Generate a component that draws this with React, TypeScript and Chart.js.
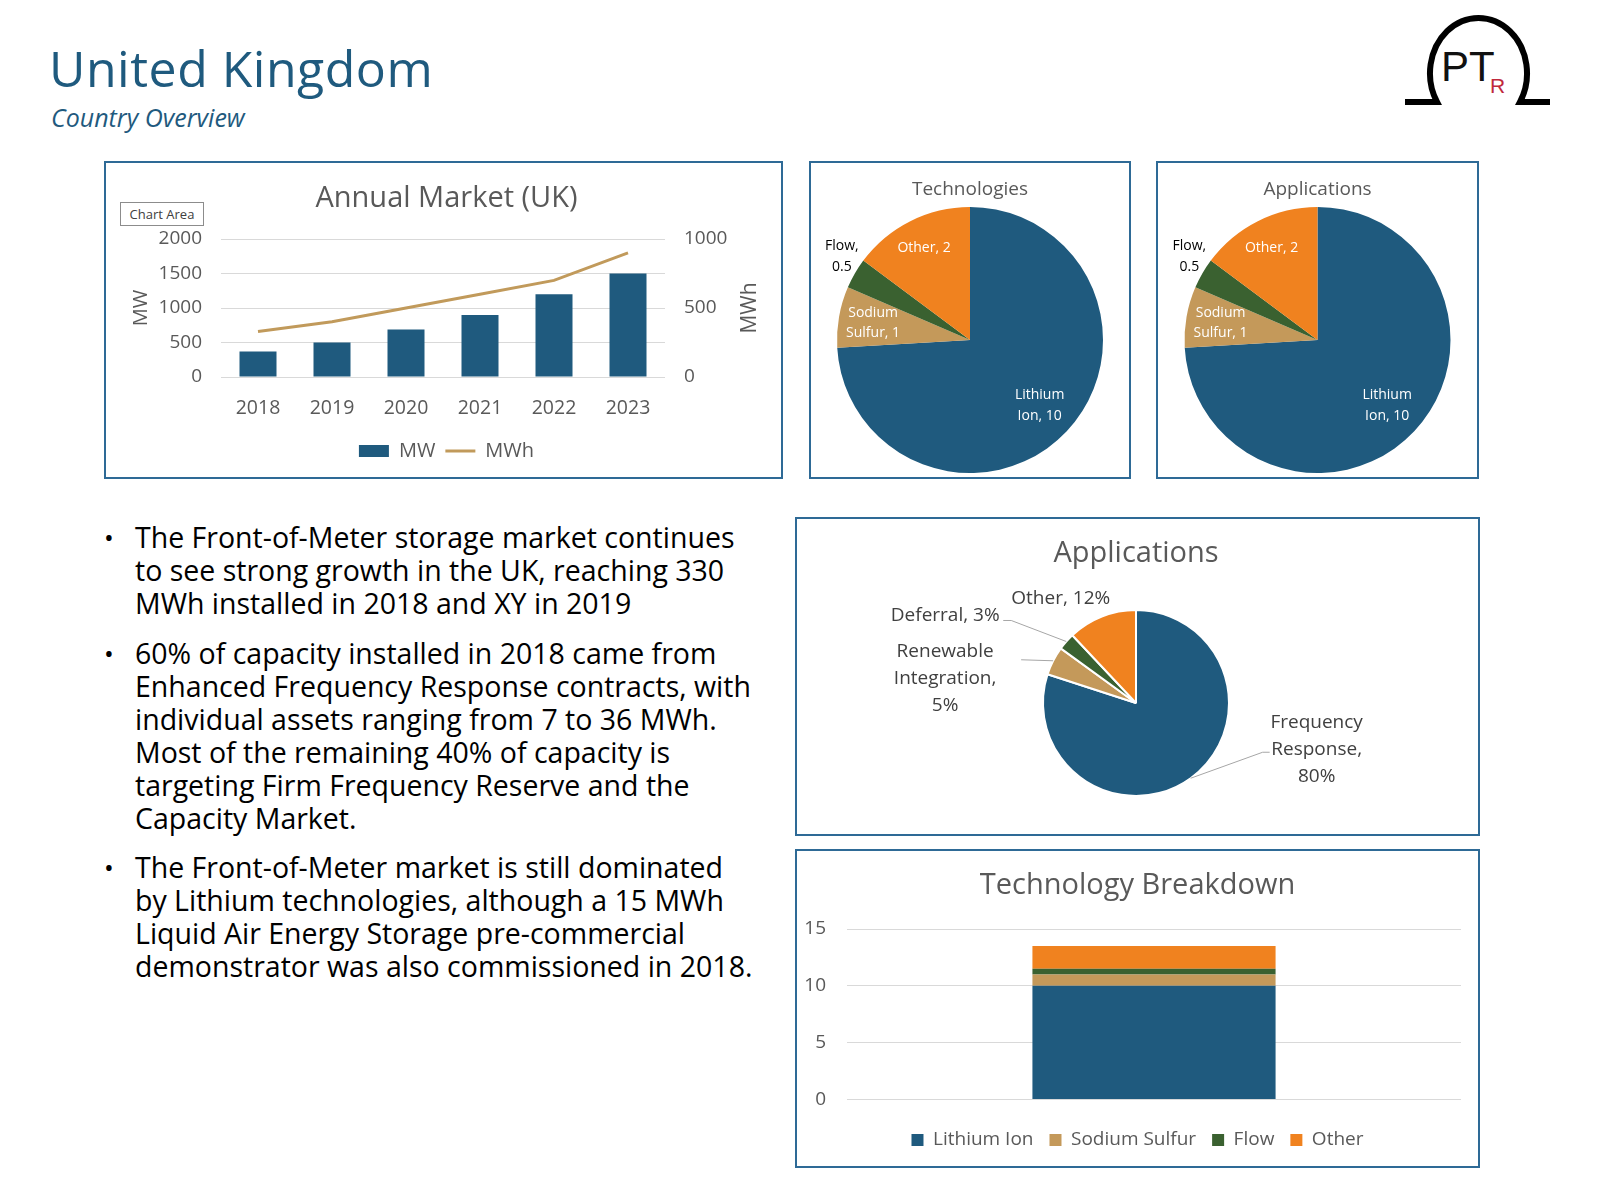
import React, { useEffect, useRef } from "react";
import { Chart, registerables } from "chart.js";

Chart.register(...registerables);

const FONT = "'Open Sans', 'Noto Sans', sans-serif";
const BLUE = "#1F5A7E";
const TAN = "#C4995A";
const GREEN = "#3A6130";
const ORANGE = "#F0821F";
const LINE = "#C19A5B";
const GRID = "#D9D9D9";
const TXT = "#595959";
const BORDER = "#2E6A96";
const TITLE_BLUE = "#1F5A7E";

// ---- Annual Market (UK)
const years = ["2018", "2019", "2020", "2021", "2022", "2023"];
const mwValues = [370, 500, 690, 900, 1200, 1500];
const mwhValues = [330, 400, 500, 600, 700, 900];

// ---- Technologies pie
const techCategories = ["Lithium Ion", "Sodium Sulfur", "Flow", "Other"];
const techValues = [10, 1, 0.5, 2];

// ---- Applications (small) pie
const appSmallCategories = ["Lithium Ion", "Sodium Sulfur", "Flow", "Other"];
const appSmallValues = [10, 1, 0.5, 2];

// ---- Applications pie (shares, %)
const appCategories = ["Frequency Response", "Renewable Integration", "Deferral", "Other"];
const appShares = [80, 5, 3, 12];

// ---- Technology Breakdown stacked bar
const breakdownSeries = ["Lithium Ion", "Sodium Sulfur", "Flow", "Other"];
const breakdownValues = [10, 1, 0.5, 2];

const sliceColors = [BLUE, TAN, GREEN, ORANGE];

type LabelSpec = {
  breaks?: number[];
  color: string;
  radial?: number;
  dx?: number;
  dy?: number;
  leader?: [number, number][];
};

function splitLines(text: string, breaks: number[] = []) {
  const words = text.split(" ");
  const lines: string[] = [];
  let cur: string[] = [];
  words.forEach((w, k) => {
    cur.push(w);
    if (breaks.includes(k + 1)) {
      lines.push(cur.join(" "));
      cur = [];
    }
  });
  if (cur.length) lines.push(cur.join(" "));
  return lines;
}

function pieLabelPlugin(
  id: string,
  specs: LabelSpec[],
  fontSize: number,
  lineH: number,
  fmt: (c: string, v: number) => string
) {
  return {
    id,
    afterDatasetsDraw(chart: any) {
      const ctx = chart.ctx;
      const meta = chart.getDatasetMeta(0);
      const labels = chart.data.labels as string[];
      const data = chart.data.datasets[0].data as number[];
      ctx.save();
      meta.data.forEach((arc: any, i: number) => {
        const spec = specs[i];
        if (!spec) return;
        const p = arc.getProps(["x", "y", "startAngle", "endAngle", "outerRadius"], true);
        const mid = (p.startAngle + p.endAngle) / 2;
        const ax = p.x + Math.cos(mid) * p.outerRadius;
        const ay = p.y + Math.sin(mid) * p.outerRadius;
        let cx: number, cy: number;
        if (spec.radial != null) {
          cx = p.x + Math.cos(mid) * p.outerRadius * spec.radial;
          cy = p.y + Math.sin(mid) * p.outerRadius * spec.radial;
        } else {
          cx = ax + (spec.dx || 0);
          cy = ay + (spec.dy || 0);
        }
        if (spec.leader) {
          ctx.beginPath();
          ctx.moveTo(ax, ay);
          spec.leader.forEach(([lx, ly]) => ctx.lineTo(ax + lx, ay + ly));
          ctx.strokeStyle = "#A6A6A6";
          ctx.lineWidth = 1;
          ctx.stroke();
        }
        const lines = splitLines(fmt(labels[i], data[i]), spec.breaks);
        ctx.fillStyle = spec.color;
        ctx.font = `${fontSize}px ${FONT}`;
        ctx.textAlign = "center";
        ctx.textBaseline = "middle";
        lines.forEach((ln, k) => {
          ctx.fillText(ln, cx, cy + (k - (lines.length - 1) / 2) * lineH);
        });
      });
      ctx.restore();
    },
  };
}

const mwhTitlePlugin = {
  id: "mwhTitle",
  afterDraw(chart: any) {
    const s = chart.scales.y1;
    const ctx = chart.ctx;
    ctx.save();
    ctx.translate(s.right - 31, (chart.chartArea.top + chart.chartArea.bottom) / 2);
    ctx.rotate(-Math.PI / 2);
    ctx.font = `21px ${FONT}`;
    ctx.fillStyle = TXT;
    ctx.textAlign = "center";
    ctx.textBaseline = "middle";
    ctx.fillText("MWh", 0, 0);
    ctx.restore();
  },
};

const plainTick = (v: any) => String(v);

function annualConfig(): any {
  return {
    type: "bar",
    data: {
      labels: years,
      datasets: [
        {
          type: "bar",
          label: "MW",
          data: mwValues,
          backgroundColor: BLUE,
          borderWidth: 0,
          yAxisID: "y",
          barPercentage: 0.5,
          categoryPercentage: 1,
          pointStyle: "rect",
        },
        {
          type: "line",
          label: "MWh",
          data: mwhValues,
          borderColor: LINE,
          backgroundColor: LINE,
          borderWidth: 3,
          pointRadius: 0,
          pointBorderWidth: 3,
          pointBorderColor: LINE,
          pointStyle: "line",
          tension: 0,
          yAxisID: "y1",
        },
      ],
    },
    options: {
      responsive: false,
      animation: false,
      layout: { padding: { left: 6, right: 0, top: 0, bottom: 6 } },
      plugins: {
        title: {
          display: true,
          text: "Annual Market (UK)",
          color: TXT,
          font: { family: FONT, size: 29, weight: "normal" },
          padding: { top: 18.6, bottom: 22.6 },
        },
        legend: {
          position: "bottom",
          labels: {
            usePointStyle: true,
            pointStyleWidth: 30,
            boxHeight: 12,
            padding: 10,
            color: TXT,
            font: { family: FONT, size: 20 },
            sort: (a: any, b: any) => a.datasetIndex - b.datasetIndex,
          },
        },
        tooltip: { enabled: false },
      },
      scales: {
        x: {
          grid: { display: false, drawTicks: false },
          border: { display: false },
          ticks: { color: TXT, font: { family: FONT, size: 19.5 }, padding: 19.5 },
          afterFit: (s: any) => {
            s.height = 54;
          },
        },
        y: {
          position: "left",
          min: 0,
          max: 2000,
          ticks: {
            stepSize: 500,
            color: TXT,
            font: { family: FONT, size: 19 },
            padding: 19,
            callback: plainTick,
          },
          grid: { color: GRID, drawTicks: false },
          border: { display: false },
          title: {
            display: true,
            text: "MW",
            color: TXT,
            font: { family: FONT, size: 20 },
            padding: { top: 17, bottom: 0 },
          },
          afterFit: (s: any) => {
            s.width = 109;
          },
        },
        y1: {
          position: "right",
          min: 0,
          max: 1000,
          ticks: {
            stepSize: 500,
            color: TXT,
            font: { family: FONT, size: 19 },
            padding: 19,
            callback: plainTick,
          },
          grid: { drawOnChartArea: false, drawTicks: false },
          border: { display: false },
          afterFit: (s: any) => {
            s.width = 116;
          },
        },
      },
    },
    plugins: [mwhTitlePlugin],
  };
}

const smallPieSpecs: LabelSpec[] = [
  { breaks: [1], color: "#FFFFFF", radial: 0.72 },
  { breaks: [1], color: "#FFFFFF", radial: 0.74 },
  { breaks: [1], color: "#000000", dx: -13, dy: -17 },
  { color: "#FFFFFF", radial: 0.77 },
];

function smallPieConfig(title: string, cats: string[], vals: number[], id: string): any {
  return {
    type: "pie",
    data: {
      labels: cats,
      datasets: [{ data: vals, backgroundColor: sliceColors, borderWidth: 0 }],
    },
    options: {
      responsive: false,
      animation: false,
      layout: { padding: { top: 0, bottom: 4, left: 0, right: 0 } },
      plugins: {
        title: {
          display: true,
          text: title,
          color: TXT,
          font: { family: FONT, size: 19, weight: "normal" },
          padding: { top: 15.6, bottom: 5.6 },
        },
        legend: { display: false },
        tooltip: { enabled: false },
      },
    },
    plugins: [pieLabelPlugin(id, smallPieSpecs, 14, 20.5, (c, v) => `${c}, ${v}`)],
  };
}

const appSpecs: LabelSpec[] = [
  { breaks: [1, 2], color: "#404040", dx: 126, dy: -29, leader: [[72, -26], [79, -26]] },
  { breaks: [1, 2], color: "#404040", dx: -108, dy: 18, leader: [[-32, -1]] },
  { color: "#404040", dx: -121, dy: -26, leader: [[-55, -21], [-63, -21]] },
  { color: "#404040", dx: -41, dy: -18 },
];

function appPieConfig(): any {
  return {
    type: "pie",
    data: {
      labels: appCategories,
      datasets: [{ data: appShares, backgroundColor: sliceColors, borderColor: "#FFFFFF", borderWidth: 2 }],
    },
    options: {
      responsive: false,
      animation: false,
      layout: { padding: { top: 0, bottom: 37, left: 0, right: 3 } },
      plugins: {
        title: {
          display: true,
          text: "Applications",
          color: TXT,
          font: { family: FONT, size: 29, weight: "normal" },
          padding: { top: 17.6, bottom: 37.6 },
        },
        legend: { display: false },
        tooltip: { enabled: false },
      },
    },
    plugins: [pieLabelPlugin("appLabels", appSpecs, 19, 27, (c, v) => `${c}, ${v}%`)],
  };
}

function breakdownConfig(): any {
  return {
    type: "bar",
    data: {
      labels: ["Technologies"],
      datasets: breakdownSeries.map((name, i) => ({
        label: name,
        data: [breakdownValues[i]],
        backgroundColor: sliceColors[i],
        borderWidth: 0,
        barPercentage: 0.396,
        categoryPercentage: 1,
      })),
    },
    options: {
      responsive: false,
      animation: false,
      layout: { padding: { left: 0, right: 0, top: 0, bottom: 6.5 } },
      plugins: {
        title: {
          display: true,
          text: "Technology Breakdown",
          color: TXT,
          font: { family: FONT, size: 29, weight: "normal" },
          padding: { top: 17.6, bottom: 25.6 },
        },
        legend: {
          position: "bottom",
          labels: {
            boxWidth: 12,
            boxHeight: 12,
            padding: 16,
            color: TXT,
            font: { family: FONT, size: 19 },
          },
        },
        tooltip: { enabled: false },
      },
      scales: {
        x: {
          stacked: true,
          grid: { display: false, drawTicks: false },
          border: { display: false },
          ticks: { display: false },
          afterFit: (s: any) => {
            s.height = 15;
          },
        },
        y: {
          stacked: true,
          min: 0,
          max: 15,
          ticks: { stepSize: 5, color: TXT, font: { family: FONT, size: 19 }, padding: 21 },
          grid: { color: GRID, drawTicks: false },
          border: { display: false },
          afterFit: (s: any) => {
            s.width = 50;
          },
        },
        yRight: {
          position: "right",
          display: true,
          ticks: { display: false },
          grid: { drawOnChartArea: false, drawTicks: false, display: false },
          border: { display: false },
          afterFit: (s: any) => {
            s.width = 17;
          },
        },
      },
    },
  };
}

function ChartCanvas({ x, y, w, h, make }: { x: number; y: number; w: number; h: number; make: () => any }) {
  const ref = useRef<HTMLCanvasElement>(null);
  useEffect(() => {
    const chart = new Chart(ref.current as HTMLCanvasElement, make());
    return () => chart.destroy();
  }, []);
  return (
    <canvas
      ref={ref}
      width={w}
      height={h}
      style={{ position: "absolute", left: x, top: y, width: w, height: h }}
    />
  );
}

function Box({ l, t, r, b }: { l: number; t: number; r: number; b: number }) {
  return (
    <div
      style={{
        position: "absolute",
        left: l,
        top: t,
        width: r - l,
        height: b - t,
        border: `2px solid ${BORDER}`,
        boxSizing: "border-box",
      }}
    />
  );
}

const paragraphs = [
  [
    "The Front-of-Meter storage market continues",
    "to see strong growth in the UK, reaching 330",
    "MWh installed in 2018 and XY in 2019",
  ],
  [
    "60% of capacity installed in 2018 came from",
    "Enhanced Frequency Response contracts, with",
    "individual assets ranging from 7 to 36 MWh.",
    "Most of the remaining 40% of capacity is",
    "targeting Firm Frequency Reserve and the",
    "Capacity Market.",
  ],
  [
    "The Front-of-Meter market is still dominated",
    "by Lithium technologies, although a 15 MWh",
    "Liquid Air Energy Storage pre-commercial",
    "demonstrator was also commissioned in 2018.",
  ],
];
const paraTops = [520.5, 636.5, 850.5];

export default function App() {
  return (
    <div
      style={{
        position: "absolute",
        left: 0,
        top: 0,
        width: 1600,
        height: 1189,
        background: "#FFFFFF",
        fontFamily: FONT,
        overflow: "hidden",
      }}
    >
      <div
        style={{
          position: "absolute",
          left: 49,
          top: 34,
          fontSize: 50,
          letterSpacing: 0.5,
          lineHeight: 1.362,
          color: TITLE_BLUE,
          whiteSpace: "nowrap",
        }}
      >
        United Kingdom
      </div>
      <div
        style={{
          position: "absolute",
          left: 51,
          top: 100,
          fontSize: 25,
          fontStyle: "italic",
          lineHeight: 1.362,
          color: TITLE_BLUE,
          whiteSpace: "nowrap",
        }}
      >
        Country Overview
      </div>

      <svg
        width={1600}
        height={130}
        style={{ position: "absolute", left: 0, top: 0, pointerEvents: "none" }}
      >
        <path
          d="M 1405 102 H 1437 A 48.5 55.4 0 1 1 1520 102 H 1550"
          fill="none"
          stroke="#000"
          strokeWidth={6}
        />
        <text x={1441} y={81} fontFamily="'Liberation Sans', Arial, sans-serif" fontSize={42} fill="#111">
          PT
        </text>
        <text x={1490} y={93} fontFamily="'Liberation Sans', Arial, sans-serif" fontSize={21} fill="#C0283C">
          R
        </text>
      </svg>

      <Box l={104} t={161} r={783} b={479} />
      <ChartCanvas x={106} y={163} w={675} h={314} make={annualConfig} />
      <div
        style={{
          position: "absolute",
          left: 120,
          top: 202,
          width: 84,
          height: 24,
          border: "1px solid #8C8C8C",
          boxSizing: "border-box",
          background: "#FFFFFF",
          fontSize: 13,
          lineHeight: "22px",
          textAlign: "center",
          color: "#404040",
        }}
      >
        Chart Area
      </div>

      <Box l={809} t={161} r={1131} b={479} />
      <ChartCanvas
        x={811}
        y={163}
        w={318}
        h={314}
        make={() => smallPieConfig("Technologies", techCategories, techValues, "techLabels")}
      />

      <Box l={1156} t={161} r={1479} b={479} />
      <ChartCanvas
        x={1158}
        y={163}
        w={319}
        h={314}
        make={() => smallPieConfig("Applications", appSmallCategories, appSmallValues, "appSmallLabels")}
      />

      <Box l={795} t={517} r={1480} b={836} />
      <ChartCanvas x={797} y={519} w={681} h={315} make={appPieConfig} />

      <Box l={795} t={849} r={1480} b={1168} />
      <ChartCanvas x={797} y={851} w={681} h={315} make={breakdownConfig} />

      {paragraphs.map((lines, i) => (
        <React.Fragment key={i}>
          <div
            style={{
              position: "absolute",
              left: 104,
              top: paraTops[i],
              fontSize: 26,
              lineHeight: "33px",
              color: "#000",
            }}
          >
            •
          </div>
          <div
            style={{
              position: "absolute",
              left: 135,
              top: paraTops[i],
              fontSize: 28.5,
              lineHeight: "33px",
              color: "#000",
              whiteSpace: "pre",
            }}
          >
            {lines.join("\n")}
          </div>
        </React.Fragment>
      ))}
    </div>
  );
}
